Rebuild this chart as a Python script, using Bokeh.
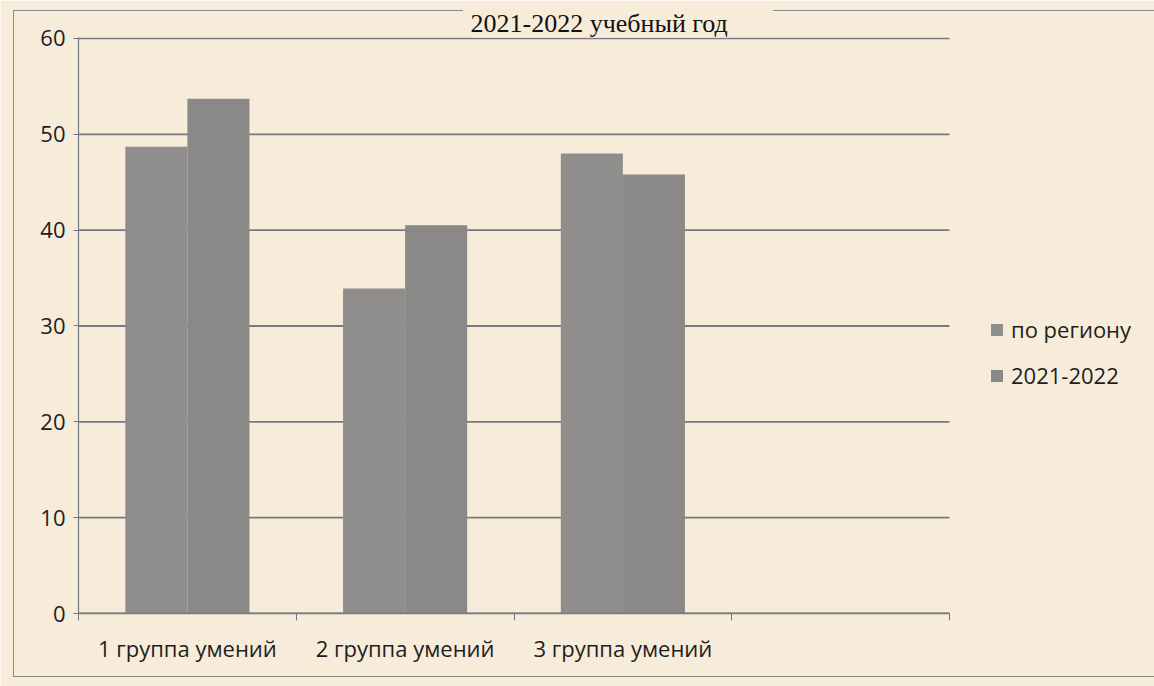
from bokeh.plotting import figure
from bokeh.models import (Range1d, FixedTicker, Legend, LegendItem, ColumnDataSource,
                          InlineStyleSheet)
from bokeh.embed import file_html
from bokeh.resources import INLINE

title_text = "2021-2022 учебный год"
categories = ["1 группа умений", "2 группа умений", "3 группа умений"]
series_names = ["по региону", "2021-2022"]
region_values = [48.7, 33.9, 48.0]
year_values = [53.7, 40.5, 45.8]
y_ticks = [0, 10, 20, 30, 40, 50, 60]
n_slots = 4  # the category axis has one empty slot at the end

BG = "#f7ecd9"
GRID = "#737a84"
BAR1 = "#8f8e8c"
BAR2 = "#8a8987"
FONT = "Open Sans"
TXT = "#1e1e1e"

# the plotting frame runs to the right edge; the legend sits in its right-hand part
X_END = n_slots * (1154 - 78) / (949 - 78)

centers = [i + 0.5 for i in range(len(categories))]
BW = 0.285
src = ColumnDataSource(dict(x1=[c - BW / 2 for c in centers], x2=[c + BW / 2 for c in centers],
                            region=region_values, year=year_values))
grid_src = ColumnDataSource(dict(x0=[0] * len(y_ticks), x1=[n_slots] * len(y_ticks), y=y_ticks))

p = figure(width=1154, height=686, output_backend="svg", toolbar_location=None,
           x_range=Range1d(0, X_END), y_range=Range1d(0, 60.1),
           min_border_left=78, min_border_right=0, min_border_top=37, min_border_bottom=73)
p.background_fill_color = BG
p.border_fill_color = BG
p.outline_line_color = None

p.title.text = title_text
p.title.text_font = "Liberation Serif"
p.title.text_font_size = "26px"
p.title.text_font_style = "normal"
p.title.text_color = "#111111"
p.title.align = "left"
p.title.offset = 392
p.title.standoff = 0
p.title.background_fill_color = BG

# horizontal value grid lines (ending at the last category slot)
p.xgrid.visible = False
p.ygrid.visible = False
p.segment(x0="x0", x1="x1", y0="y", y1="y", source=grid_src, line_color=GRID, line_width=1.8)

r1 = p.vbar(x="x1", top="region", width=BW, source=src, fill_color=BAR1, line_color=None)
r2 = p.vbar(x="x2", top="year", width=BW, source=src, fill_color=BAR2, line_color=None)

# y axis
yax = p.yaxis[0]
yax.ticker = FixedTicker(ticks=y_ticks)
yax.axis_line_color = GRID
yax.axis_line_width = 1.2
yax.major_tick_line_color = GRID
yax.major_tick_out = 5
yax.major_tick_in = 0
yax.minor_tick_line_color = None
yax.major_label_text_font = FONT
yax.major_label_text_font_size = "22px"
yax.major_label_text_color = TXT
yax.major_label_standoff = 8

# x axis: labels at category centres, tick marks at category boundaries
xax = p.xaxis[0]
xax.bounds = (0, n_slots)
xax.ticker = FixedTicker(ticks=centers, minor_ticks=list(range(n_slots + 1)))
xax.major_label_overrides = {c: lab for c, lab in zip(centers, categories)}
xax.major_tick_line_color = None
xax.major_tick_out = 0
xax.major_tick_in = 0
xax.minor_tick_line_color = GRID
xax.minor_tick_out = 7
xax.minor_tick_in = 0
xax.axis_line_color = GRID
xax.axis_line_width = 1.4
xax.major_label_text_font = FONT
xax.major_label_text_font_size = "22px"
xax.major_label_text_color = TXT
xax.major_label_standoff = 12

legend = Legend(items=[LegendItem(label=series_names[0], renderers=[r1]),
                       LegendItem(label=series_names[1], renderers=[r2])],
                location=(911, 223), orientation="vertical",
                label_text_font=FONT, label_text_font_size="22px", label_text_color=TXT,
                glyph_width=15, glyph_height=15, label_standoff=7, spacing=16,
                padding=0, margin=0, border_line_color=None, background_fill_alpha=0)
p.add_layout(legend, "center")

# outer chart border (drawn by CSS around the canvas)
p.stylesheets = [InlineStyleSheet(css="""
:host { position: relative; }
:host::after { content: ""; position: absolute; left: 13px; top: 10px; width: 1160px; height: 666px;
  border-left: 1px solid #8a8a8a; border-bottom: 1px solid #8a8a8a; pointer-events: none; z-index: 10; }
:host::before { content: ""; position: absolute; left: 13px; top: 10px; width: 1141px; height: 1px;
  background: linear-gradient(to right, #8a8a8a 0px, #8a8a8a 450px, transparent 450px, transparent 760px, #8a8a8a 760px);
  pointer-events: none; z-index: 10; }
""")]

open("out.html", "w").write(file_html(p, INLINE))
